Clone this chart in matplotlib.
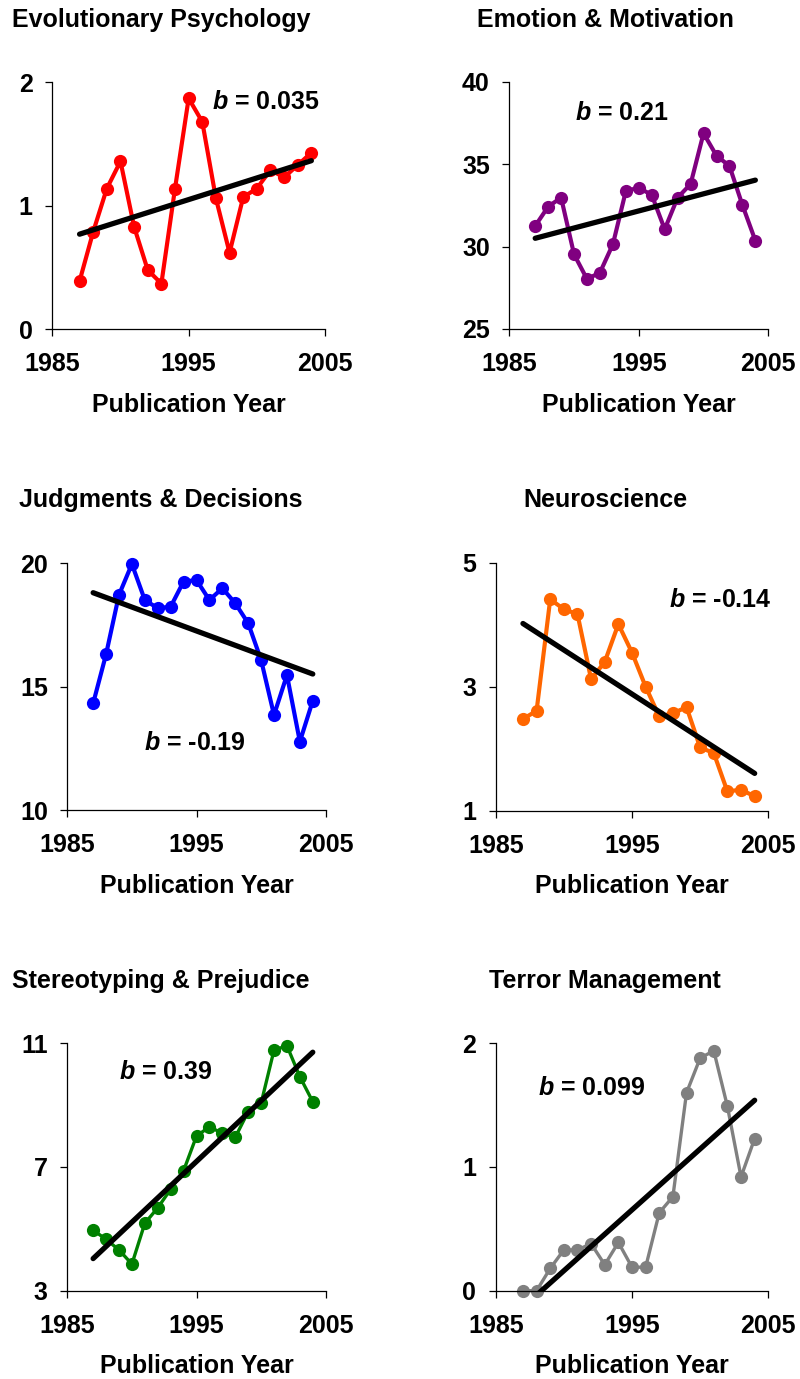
import numpy as np
import matplotlib
matplotlib.use("Agg")
import matplotlib.pyplot as plt

plt.rcParams['font.family'] = ['Liberation Sans', 'DejaVu Sans']
plt.rcParams['font.weight'] = 'bold'
plt.rcParams['mathtext.fontset'] = 'custom'
plt.rcParams['mathtext.bfit'] = 'Liberation Sans:italic:bold'
plt.rcParams['mathtext.rm'] = 'Liberation Sans:bold'

years = np.arange(1987, 2005)

evo_psych = [0.39, 0.79, 1.14, 1.36, 0.83, 0.48, 0.37, 1.14, 1.87, 1.68,
             1.06, 0.62, 1.07, 1.14, 1.29, 1.23, 1.33, 1.43]
emotion = [31.25, 32.42, 32.97, 29.53, 28.03, 28.42, 30.14, 33.37, 33.57, 33.13,
           31.05, 32.97, 33.79, 36.87, 35.51, 34.89, 32.52, 30.36]
judgments = [14.32, 16.31, 18.72, 19.97, 18.51, 18.18, 18.24, 19.26, 19.32, 18.51,
             18.99, 18.38, 17.57, 16.08, 13.85, 15.47, 12.77, 14.43]
neuro = [2.48, 2.61, 4.41, 4.25, 4.17, 3.12, 3.40, 4.01, 3.55, 3.00,
         2.52, 2.57, 2.67, 2.02, 1.93, 1.31, 1.34, 1.23]
stereo = [4.96, 4.66, 4.32, 3.86, 5.18, 5.68, 6.28, 6.88, 8.00, 8.30,
          8.09, 7.96, 8.79, 9.06, 10.78, 10.92, 9.92, 9.11]
terror = [0.00, 0.00, 0.18, 0.33, 0.33, 0.38, 0.21, 0.39, 0.19, 0.19,
          0.63, 0.76, 1.60, 1.88, 1.94, 1.49, 0.92, 1.23]

titles = ["Evolutionary Psychology", "Emotion & Motivation", "Judgments & Decisions",
          "Neuroscience", "Stereotyping & Prejudice", "Terror Management"]
series = [evo_psych, emotion, judgments, neuro, stereo, terror]
colors = ["#FF0000", "#800080", "#0000FF", "#FF6600", "#008000", "#808080"]
slopes = ["0.035", "0.21", "-0.19", "-0.14", "0.39", "0.099"]
yticks = [[0, 1, 2], [25, 30, 35, 40], [10, 15, 20], [1, 3, 5], [3, 7, 11], [0, 1, 2]]
xticks = [1985, 1995, 2005]

# layout (pixels)
W, H = 800, 1379
ax_boxes = [(52.3, 82.3, 325.0, 329.3), (509.3, 81.7, 768.3, 329.0),
            (67.3, 563.3, 325.7, 810.0), (495.7, 562.7, 768.3, 810.7),
            (67.3, 1043.3, 325.7, 1290.7), (495.7, 1043.3, 768.3, 1290.7)]
title_pos = [(161, 20), (605, 20), (161, 500), (605, 500), (161, 981), (605, 981)]
label_pos = [(1996.7, 1.84), (1990.1, 38.08), (1990.9, 12.70),
             (1997.7, 4.40), (1989.0, 10.08), (1988.1, 1.64)]
data_lw = [3.0, 3.0, 3.0, 3.0, 2.4, 2.4]
FS = 18

fig = plt.figure(figsize=(W / 100, H / 100), dpi=100)

for i in range(6):
    l, t, r, b = ax_boxes[i]
    ax = fig.add_axes([l / W, 1 - b / H, (r - l) / W, (b - t) / H])
    y = np.array(series[i], dtype=float)
    ax.plot(years, y, '-o', color=colors[i], lw=data_lw[i], ms=9.5,
            markeredgewidth=0, zorder=2, clip_on=False)
    coef = np.polyfit(years, y, 1)
    xx = np.array([years[0], years[-1]], dtype=float)
    ax.plot(xx, np.polyval(coef, xx), color='black', lw=3.8,
            solid_capstyle='round', zorder=3)
    ax.set_xlim(1985, 2005)
    ax.set_ylim(yticks[i][0], yticks[i][-1])
    ax.set_xticks(xticks)
    ax.set_yticks(yticks[i])
    for s in ['top', 'right']:
        ax.spines[s].set_visible(False)
    for s in ['left', 'bottom']:
        ax.spines[s].set_linewidth(0.9)
        ax.spines[s].set_color('black')
    ax.tick_params(axis='both', direction='out', length=5, width=0.9,
                   labelsize=FS)
    ax.tick_params(axis='x', pad=11.5)
    ax.tick_params(axis='y', pad=9)
    for lab in ax.get_xticklabels() + ax.get_yticklabels():
        lab.set_fontweight('bold')
    ax.set_xlabel("Publication Year", fontsize=FS, fontweight='bold', labelpad=12)
    ax.text(label_pos[i][0], label_pos[i][1],
            r"$\mathbfit{b}$ = " + slopes[i], fontsize=FS, fontweight='bold',
            ha='left', va='center', zorder=4)
    fig.text(title_pos[i][0] / W, 1 - title_pos[i][1] / H, titles[i],
             fontsize=FS, fontweight='bold', ha='center', va='center')

fig.savefig("out.png", dpi=100)
